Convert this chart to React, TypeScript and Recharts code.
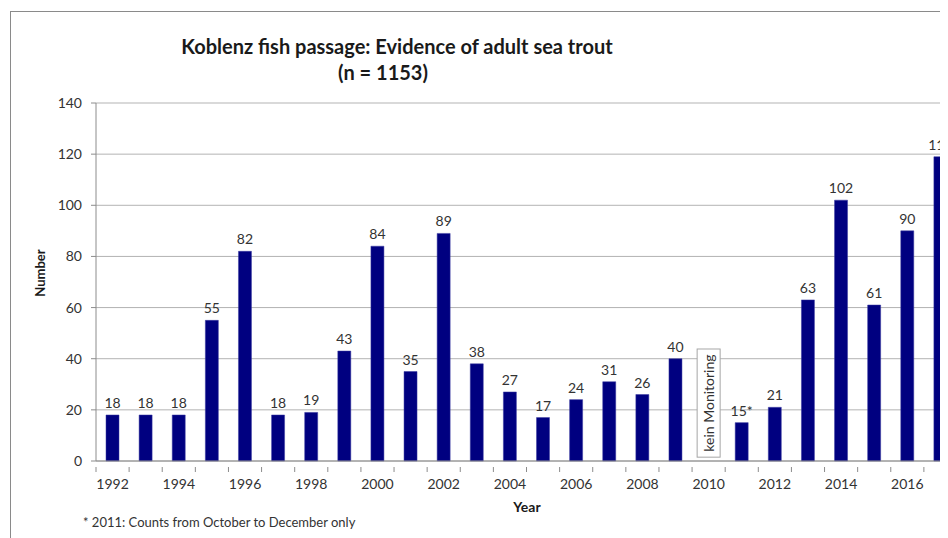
import { BarChart, Bar, XAxis, YAxis, CartesianGrid, LabelList, ReferenceArea } from "recharts";

const YEARS = [
  "1992", "1993", "1994", "1995", "1996", "1997", "1998", "1999", "2000",
  "2001", "2002", "2003", "2004", "2005", "2006", "2007", "2008", "2009",
  "2010", "2011", "2012", "2013", "2014", "2015", "2016", "2017",
];
// 2010: no monitoring that year
const COUNTS: (number | null)[] = [
  18, 18, 18, 55, 82, 18, 19, 43, 84,
  35, 89, 38, 27, 17, 24, 31, 26, 40,
  null, 15, 21, 63, 102, 61, 90, 119,
];
const FOOTNOTE_YEARS = ["2011"];
const NO_MONITORING_YEAR = "2010";
const Y_TICKS = [0, 20, 40, 60, 80, 100, 120, 140];

const data = YEARS.map((year, i) => {
  const count = COUNTS[i];
  const label = count == null ? null : FOOTNOTE_YEARS.includes(year) ? `${count}*` : `${count}`;
  return { year, count, label };
});

const FONT = "Lato, 'Open Sans', sans-serif";
const TEXT = "#333333";
const AXIS = "#8c8c8c";

// every category gets a boundary tick, only even years get a label
const YearTick = (props: any) => {
  const { x, y, payload, index } = props;
  const half = payload.offset ?? 16.5;
  const label = Number(payload.value) % 2 === 0;
  return (
    <g>
      <line x1={x - half} x2={x - half} y1={y - 12} y2={y - 7} stroke={AXIS} />
      {index === YEARS.length - 1 && (
        <line x1={x + half} x2={x + half} y1={y - 12} y2={y - 7} stroke={AXIS} />
      )}
      {label && (
        <text x={x} y={y} dy={10} textAnchor="middle" fontSize={14} fill={TEXT} fontFamily={FONT}>
          {payload.value}
        </text>
      )}
    </g>
  );
};

const NoMonitoringBox = (props: any) => {
  const { x, y, width, height } = props;
  const w = 23;
  const cx = x + width / 2;
  const cy = y + height / 2;
  return (
    <g>
      <rect x={cx - w / 2} y={y} width={w} height={height} fill="#fff" stroke="#a6a6a6" />
      <text
        x={cx}
        y={cy}
        transform={`rotate(-90 ${cx} ${cy})`}
        textAnchor="middle"
        dominantBaseline="central"
        fontSize={14}
        fill={TEXT}
        fontFamily={FONT}
      >
        kein Monitoring
      </text>
    </g>
  );
};

const titleStyle = {
  position: "absolute" as const,
  width: 500,
  textAlign: "center" as const,
  fontWeight: 700,
  fontSize: 20,
  lineHeight: "26px",
  color: "#1a1a1a",
};

const App = () => {
  return (
    <div style={{ position: "relative", width: 940, height: 530, overflow: "hidden", fontFamily: FONT }}>
      <div
        style={{
          position: "absolute",
          left: 2,
          top: 3,
          width: 1000,
          height: 600,
          border: "1px solid #8a8a8a",
          boxSizing: "border-box",
        }}
      />
      <div style={{ ...titleStyle, left: 139, top: 25 }}>
        Koblenz fish passage: Evidence of adult sea trout
      </div>
      <div style={{ ...titleStyle, left: 125, top: 51 }}>(n = 1153)</div>
      <div
        style={{
          position: "absolute",
          left: 32,
          top: 265,
          transform: "translate(-50%, -50%) rotate(-90deg)",
          fontWeight: 700,
          fontSize: 13,
          color: "#1a1a1a",
        }}
      >
        Number
      </div>
      <div
        style={{
          position: "absolute",
          left: 519,
          top: 490,
          transform: "translateX(-50%)",
          fontWeight: 700,
          fontSize: 14,
          color: "#1a1a1a",
        }}
      >
        Year
      </div>
      <div
        style={{
          position: "absolute",
          left: 75,
          top: 506,
          fontSize: 13,
          color: TEXT,
        }}
      >
        * 2011: Counts from October to December only
      </div>
      <div style={{ position: "absolute", left: 0, top: 0 }}>
        <BarChart
          width={962}
          height={530}
          data={data}
          margin={{ top: 95, right: 13, bottom: 47, left: 28 }}
          barSize={13}
        >
          <CartesianGrid vertical={false} stroke="#b3b3b3" />
          <XAxis
            dataKey="year"
            interval={0}
            height={30}
            stroke={AXIS}
            tickLine={false}
            tick={<YearTick />}
            tickMargin={12}
          />
          <YAxis
            domain={[0, 140]}
            ticks={Y_TICKS}
            width={60}
            stroke={AXIS}
            tickSize={5}
            tickMargin={9}
            tick={{ fontSize: 14, fill: TEXT, fontFamily: FONT }}
          />
          <ReferenceArea
            x1={NO_MONITORING_YEAR}
            x2={NO_MONITORING_YEAR}
            y1={1.5}
            y2={43.8}
            shape={<NoMonitoringBox />}
          />
          <Bar dataKey="count" fill="#000080" stroke="#3a3aa0" strokeWidth={0.5} isAnimationActive={false}>
            <LabelList
              dataKey="label"
              position="top"
              offset={7}
              fontSize={14}
              fill={TEXT}
              fontFamily={FONT}
            />
          </Bar>
        </BarChart>
      </div>
    </div>
  );
};

export default App;
